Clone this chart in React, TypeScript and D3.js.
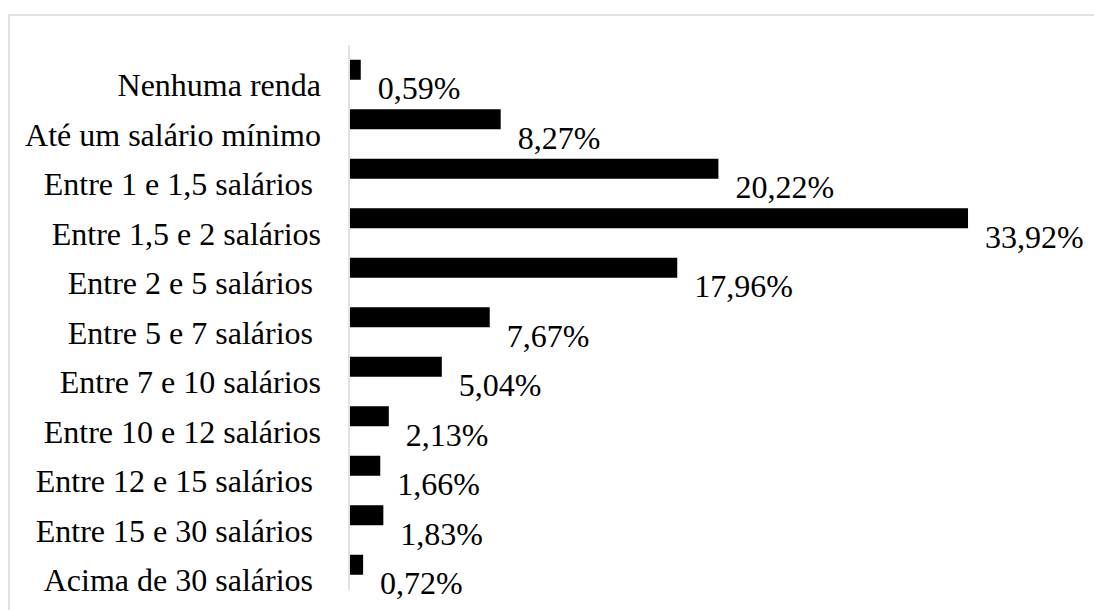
import React from "react";
import * as d3 from "d3";

const categories: string[] = [
  "Nenhuma renda",
  "Até um salário mínimo",
  "Entre 1 e 1,5 salários ",
  "Entre 1,5 e 2 salários",
  "Entre 2 e 5 salários ",
  "Entre 5 e 7 salários ",
  "Entre 7 e 10 salários",
  "Entre 10 e 12 salários",
  "Entre 12 e 15 salários ",
  "Entre 15 e 30 salários ",
  "Acima de 30 salários ",
];

const values: number[] = [0.59, 8.27, 20.22, 33.92, 17.96, 7.67, 5.04, 2.13, 1.66, 1.83, 0.72];

const W = 1094;
const H = 610;
const FONT = "'Liberation Serif', 'Times New Roman', serif";

const fmt = (v: number) => d3.format(".2f")(v).replace(".", ",") + "%";

export default function App() {
  const x = d3.scaleLinear().domain([0, 35]).range([350, 350 + 35 * 18.22]);
  const y = d3
    .scaleBand<string>()
    .domain(categories)
    .range([35, 599.5])
    .paddingInner(0.596)
    .paddingOuter(0.5);
  const bw = y.bandwidth();

  return (
    <svg
      width={W}
      height={H}
      style={{ position: "absolute", left: 0, top: 0, background: "#fff" }}
    >
      <rect x={0} y={0} width={W} height={H} fill="#fff" />
      <rect x={9} y={15} width={W + 20} height={H + 20} fill="none" stroke="#d9d9d9" strokeWidth={1.5} />
      <line x1={349} x2={349} y1={45} y2={590} stroke="#d9d9d9" strokeWidth={1.5} />
      {categories.map((c, i) => {
        const y0 = y(c) as number;
        const v = values[i];
        return (
          <g key={c}>
            <rect x={x(0)} y={y0} width={x(v) - x(0)} height={bw} fill="#000" />
            <text
              x={321}
              y={y0 + bw / 2 + 26.5}
              textAnchor="end"
              fontFamily={FONT}
              fontSize={32}
              fill="#000"
              style={{ whiteSpace: "pre" }}
            >
              {c}
            </text>
            <text
              x={x(v) + 17}
              y={y0 + bw / 2 + 29.5}
              fontFamily={FONT}
              fontSize={32}
              fill="#000"
            >
              {fmt(v)}
            </text>
          </g>
        );
      })}
    </svg>
  );
}
